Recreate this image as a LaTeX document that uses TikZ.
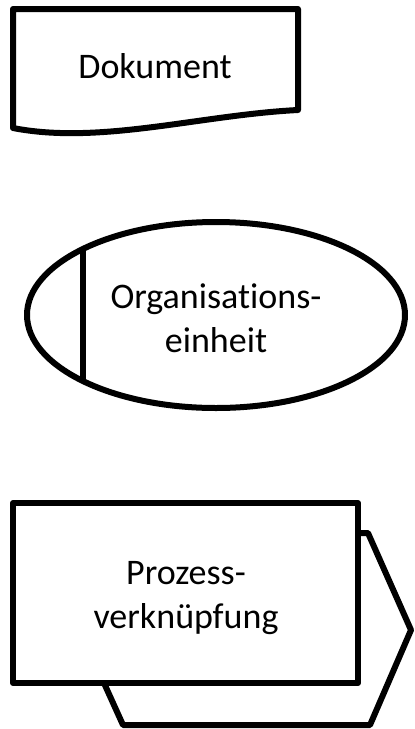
\documentclass[tikz,border=0pt]{standalone}
\usepackage{fontspec}
\setmainfont{Carlito}[Ligatures={NoCommon,NoDiscretionary}]
\begin{document}
\begin{tikzpicture}[x=1pt,y=-1pt,
  shapeline/.style={draw=black,line width=6pt,line join=round,fill=white},
  lbl/.style={font=\fontsize{36}{44}\selectfont,align=center,inner sep=0pt}]
\useasboundingbox (0,0) rectangle (415,729);
% Dokument
\draw[shapeline] (13,128) -- (13,9) -- (298,9) -- (298,110)
  .. controls (200,115) and (100,145) .. (13,128) -- cycle;
\node[lbl] (dok) at (155,66) {Dokument};
% Organisationseinheit
\draw[shapeline] (216,315) ellipse [x radius=189,y radius=93];
\coordinate (vt) at (83,249);
\coordinate (vb) at (83,381);
\draw[line width=6pt] (vt) -- (vb);
\node[lbl] (org) at (216,318) {Organisations-\\einheit};
% Prozessverknuepfung
\draw[shapeline] (123,533) -- (368,533) -- (411,630) -- (370,725) -- (123,725) -- (80,630) -- cycle;
\draw[shapeline] (13,503) rectangle (358,683);
\node[lbl] (proz) at (186,598) {Prozess-\\verknüpfung};
\end{tikzpicture}
\end{document}
